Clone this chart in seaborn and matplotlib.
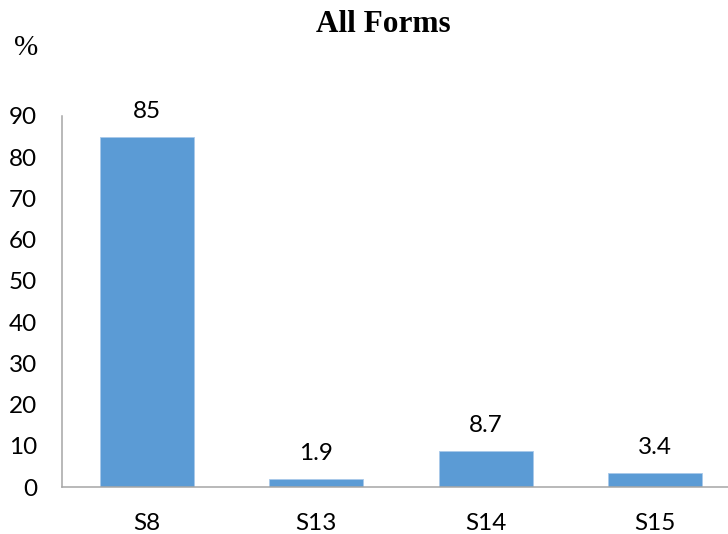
import matplotlib
matplotlib.use("Agg")
import matplotlib.pyplot as plt
import seaborn as sns
import pandas as pd

categories = ["S8", "S13", "S14", "S15"]
values = [85, 1.9, 8.7, 3.4]
value_labels = ["85", "1.9", "8.7", "3.4"]
yticks = [0, 10, 20, 30, 40, 50, 60, 70, 80, 90]

df = pd.DataFrame({"form": categories, "pct": values})

sns.set_theme(style="white")
plt.rcParams["font.family"] = ["Lato", "DejaVu Sans"]

fig = plt.figure(figsize=(7.28, 5.34), dpi=100)
ax = fig.add_axes([62 / 728, 47 / 534, 678 / 728, 371 / 534])

sns.barplot(data=df, x="form", y="pct", color="#5B9BD5", width=0.555,
            saturation=1, edgecolor="#A9C9EA", linewidth=0.6, ax=ax)

for i, (v, lab) in enumerate(zip(values, value_labels)):
    ax.annotate(lab, xy=(i, v), xytext=(0, 13.5), textcoords="offset points",
                ha="center", va="baseline", fontsize=17.5, color="black")

ax.set_xlim(-0.5, 3.5)
ax.set_ylim(0, 90)
ax.set_yticks(yticks)
ax.set_yticklabels([str(t) for t in yticks])
ax.set_xlabel("")
ax.set_ylabel("")
ax.tick_params(axis="both", length=0, labelsize=17.5, labelcolor="black")
ax.tick_params(axis="y", pad=18)
ax.tick_params(axis="x", pad=19)

for side in ["top", "right"]:
    ax.spines[side].set_visible(False)
for side in ["left", "bottom"]:
    ax.spines[side].set_color("#A6A6A6")
    ax.spines[side].set_linewidth(1.1)

fig.text(383 / 728, 1 - 25 / 534, "All Forms", ha="center", va="center",
         fontsize=22.5, fontweight="bold", family="Liberation Serif", color="black")
fig.text(26 / 728, 1 - 48 / 534, "%", ha="center", va="center",
         fontsize=21, family="Liberation Serif", color="black")

fig.savefig("out.png", dpi=100)
